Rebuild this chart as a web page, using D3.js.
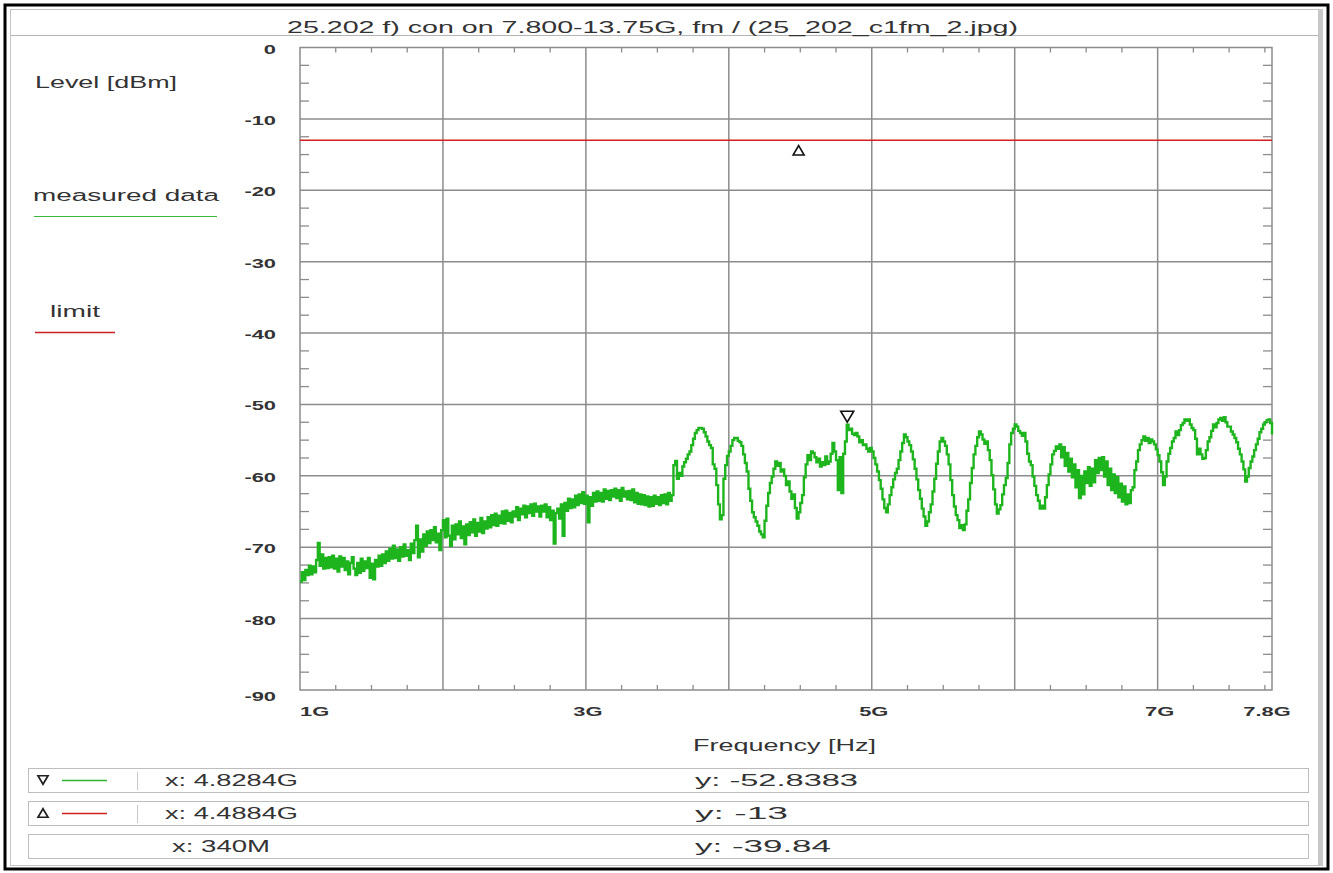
<!DOCTYPE html>
<html>
<head>
<meta charset="utf-8">
<script src="https://cdn.jsdelivr.net/npm/d3@7"></script>
<style>
  html, body { margin: 0; padding: 0; background: #fff; }
  svg { display: block; font-family: "Liberation Sans", Arial, sans-serif; }
</style>
</head>
<body>
<div id="chart"></div>
<script>
// ---- data ----
const title = "25.202 f) con on 7.800-13.75G, fm / (25_202_c1fm_2.jpg)";
const sweepStart = 1e9;        // Hz
const sweepStep = 0.0125e9;    // Hz between samples
// measured level [dBm], one value every 12.5 MHz from 1G to 7.8G (8 per 100 MHz)
const measured = [
  -74.8, -73.5, -74.6, -73.2, -73.9, -72.6, -73.8, -72.7,
  -73.5, -71.8, -69.4, -72.6, -71.0, -73.0, -71.5, -72.9,
  -71.4, -72.8, -71.2, -73.0, -71.6, -73.4, -71.3, -72.7,
  -71.5, -73.2, -72.0, -73.8, -72.2, -71.4, -73.0, -73.9,
  -72.2, -73.6, -71.6, -73.3, -72.0, -72.9, -71.5, -74.3,
  -72.3, -74.5, -71.8, -72.7, -71.2, -72.6, -71.0, -72.2,
  -70.6, -71.9, -70.2, -71.6, -69.8, -71.5, -70.3, -71.9,
  -70.0, -71.3, -69.6, -71.2, -70.4, -71.8, -69.5, -70.8,
  -69.0, -67.0, -71.4, -68.9, -70.6, -68.2, -69.8, -67.8,
  -69.4, -67.6, -69.0, -67.2, -69.3, -68.1, -70.4, -67.6,
  -66.2, -68.6, -66.0, -68.4, -69.8, -67.0, -68.9, -66.8,
  -68.2, -66.4, -68.7, -67.1, -69.6, -66.8, -68.3, -66.5,
  -67.9, -66.1, -68.4, -66.6, -67.8, -65.9, -68.0, -66.4,
  -67.4, -65.8, -67.2, -65.5, -66.9, -65.3, -67.0, -65.6,
  -66.6, -65.0, -66.7, -64.9, -66.3, -65.2, -66.5, -65.0,
  -65.7, -64.4, -66.2, -64.6, -65.4, -64.2, -65.8, -64.3,
  -65.2, -64.0, -65.6, -63.9, -65.0, -64.3, -65.7, -64.2,
  -65.0, -64.0, -65.8, -64.4, -66.2, -64.9, -69.5, -65.2,
  -64.6, -66.0, -64.0, -68.4, -63.8, -64.9, -63.2, -64.5,
  -63.3, -64.4, -62.8, -64.1, -62.6, -63.8, -62.3, -63.9,
  -62.8, -66.5, -63.0, -64.2, -62.4, -63.6, -62.2, -63.5,
  -62.4, -63.6, -61.9, -63.2, -62.1, -63.4, -62.0, -62.9,
  -61.8, -63.1, -62.0, -63.5, -61.7, -62.9, -62.2, -63.3,
  -62.1, -63.4, -61.9, -63.7, -62.4, -63.9, -62.6, -64.0,
  -62.7, -64.1, -62.9, -64.3, -63.0, -64.2, -62.8, -63.9,
  -63.0, -64.1, -62.7, -63.8, -62.6, -64.0, -62.4, -63.5,
  -62.7, -58.5, -57.9, -60.4, -59.6, -60.0, -58.7, -58.1,
  -57.6, -57.0, -56.6, -55.7, -54.8, -54.0, -53.6, -53.3,
  -53.3, -53.4, -53.9, -54.5, -55.2, -55.7, -56.1, -58.4,
  -59.0, -61.3, -64.0, -66.1, -65.5, -60.4, -58.5, -57.2,
  -56.6, -55.8, -55.0, -54.7, -54.7, -55.1, -55.3, -55.8,
  -57.0, -58.2, -59.4, -61.8, -63.5, -65.1, -65.8, -66.4,
  -67.0, -67.8, -68.2, -68.6, -66.3, -64.2, -62.4, -61.0,
  -60.1, -59.0, -58.0, -58.6, -58.2, -59.4, -59.1, -60.0,
  -61.3, -60.8, -62.2, -63.2, -62.6, -64.5, -66.0, -65.1,
  -63.8, -62.7, -60.2, -58.4, -57.1, -57.8, -56.6, -56.8,
  -57.4, -58.1, -57.6, -58.7, -58.1, -58.5, -57.3, -58.3,
  -58.0, -56.9, -55.4, -56.6, -57.8, -62.0, -57.4, -62.4,
  -56.9, -55.2, -52.84, -53.6, -53.4, -54.1, -54.3, -54.0,
  -54.5, -55.3, -55.0, -55.7, -55.6, -56.2, -56.6, -56.1,
  -56.6, -57.5, -58.4, -59.4, -60.6, -61.8, -63.3, -64.5,
  -65.1, -64.0, -62.7, -61.6, -60.5, -59.6, -59.0, -57.8,
  -56.6, -55.4, -54.2, -54.6, -55.2, -55.7, -56.6, -57.7,
  -59.0, -60.5, -62.0, -63.2, -64.6, -65.7, -67.0, -66.4,
  -65.1, -64.0, -62.2, -60.4, -58.3, -56.6, -55.2, -54.7,
  -55.2, -55.8, -57.0, -58.4, -60.6, -62.7, -64.3, -65.5,
  -66.2, -67.3, -66.9, -67.6, -66.8, -64.9, -63.3, -61.0,
  -58.9, -57.0, -55.8, -54.6, -53.8, -54.2, -54.9, -55.5,
  -55.2, -56.4, -57.8, -59.9, -61.9, -64.0, -65.3, -64.7,
  -64.1, -62.6, -61.3, -60.3, -58.2, -55.6, -54.0, -53.4,
  -52.8, -53.1, -53.7, -54.0, -54.4, -54.0, -55.2, -56.9,
  -58.0, -58.5, -60.1, -61.4, -62.7, -63.5, -64.6, -64.2,
  -64.6, -63.0, -61.3, -59.8, -58.4, -57.0, -56.5, -55.9,
  -56.2, -55.6, -57.4, -56.0, -58.6, -56.8, -59.4, -57.6,
  -60.2, -58.4, -61.6, -59.2, -63.1, -60.0, -62.6, -59.4,
  -61.0, -58.8, -61.4, -59.0, -60.9, -57.8, -59.6, -57.5,
  -59.2, -57.4, -60.1, -58.0, -61.3, -59.0, -62.0, -59.8,
  -62.4, -60.2, -63.0, -61.1, -63.6, -61.5, -64.0, -62.6,
  -63.8, -62.0, -61.6, -59.2, -58.0, -56.4, -55.6, -55.0,
  -54.5, -55.1, -54.7, -55.4, -54.9, -55.2, -55.6, -56.3,
  -57.1, -58.0, -59.5, -61.3, -60.1, -58.0, -56.9, -56.1,
  -55.2, -54.7, -53.8, -54.3, -53.6, -52.9, -52.6, -52.1,
  -52.3, -52.1, -52.8, -53.3, -53.6, -54.8, -57.0, -56.2,
  -57.0, -57.6, -57.5, -56.4, -55.2, -54.6, -53.7, -52.8,
  -53.2, -52.6, -52.1, -51.9, -52.3, -51.8, -52.5, -53.1,
  -53.1, -53.8, -54.2, -54.7, -55.3, -56.2, -57.0, -58.0,
  -59.1, -60.8, -60.1, -58.9, -58.0, -57.3, -56.4, -55.6,
  -54.8, -53.9, -53.4, -52.8, -52.5, -52.2, -52.1, -52.6,
  -54.2
];
const limitLevel = -13;

const xTickValues = [1e9, 3e9, 5e9, 7e9, 7.8e9];
const xTickLabels = ["1G", "3G", "5G", "7G", "7.8G"];
const xGridValues = [2e9, 3e9, 4e9, 5e9, 6e9, 7e9];
const yTickValues = [0, -10, -20, -30, -40, -50, -60, -70, -80, -90];

const markerRows = [
  { sym: "down", color: "#2db52d", x: "x: 4.8284G", y: "y: -52.8383", fx: 4.8284e9, fy: -52.8383 },
  { sym: "up",   color: "#d22020", x: "x: 4.4884G", y: "y: -13",      fx: 4.4884e9, fy: -13 },
  { sym: null,   color: null,      x: "x: 340M",    y: "y: -39.84" }
];

// ---- layout ----
const W = 1333, H = 873;
const plot = { left: 300, right: 1272, top: 47.5, bottom: 690 };
const textColor = "#333";
const gridColor = "#8c8c8c";
const traceColor = "#1db41d";
const stretch = 1.75;   // the original screenshot is widened horizontally

const svg = d3.select("#chart").append("svg")
  .attr("width", W).attr("height", H);

// text widened to a given pixel width
function wideText(sel, x, y, str, width, size, anchor) {
  return sel.append("text").attr("x", x).attr("y", y)
    .attr("text-anchor", anchor || "start")
    .attr("textLength", width).attr("lengthAdjust", "spacingAndGlyphs")
    .attr("fill", textColor).style("font-size", size + "px").text(str);
}

// window frame
svg.append("rect").attr("x", 5).attr("y", 5).attr("width", 1323).attr("height", 864)
  .attr("fill", "#fff").attr("stroke", "#000").attr("stroke-width", 3);
svg.append("rect").attr("x", 10.5).attr("y", 9.5).attr("width", 1308).attr("height", 856)
  .attr("fill", "none").attr("stroke", "#c4c4c4").attr("stroke-width", 1);
svg.append("rect").attr("x", 1319).attr("y", 9).attr("width", 4).attr("height", 857)
  .attr("fill", "#c8c8c8");

// title bar
svg.append("line").attr("x1", 11).attr("x2", 1318).attr("y1", 35.5).attr("y2", 35.5)
  .attr("stroke", "#b4b4b4");
wideText(svg, 287, 33, title, 731, 16);

const x = d3.scaleLinear().domain([1e9, 7.8e9]).range([plot.left, plot.right]);
const y = d3.scaleLinear().domain([-90, 0]).range([plot.bottom, plot.top]);

const g = svg.append("g");

// grid
g.append("g").selectAll("line").data(xGridValues).join("line")
  .attr("x1", d => x(d)).attr("x2", d => x(d))
  .attr("y1", plot.top).attr("y2", plot.bottom)
  .attr("stroke", gridColor).attr("stroke-width", 1.5);
g.append("g").selectAll("line").data(yTickValues.slice(1, -1)).join("line")
  .attr("x1", plot.left).attr("x2", plot.right)
  .attr("y1", d => y(d)).attr("y2", d => y(d))
  .attr("stroke", gridColor).attr("stroke-width", 1.5);

// minor ticks
const yMinor = d3.range(-90, 0.01, 2.5).filter(v => Math.abs(v % 10) > 0.01);
const xMinor = d3.range(1e9, 7.8e9, 0.25e9).filter(v => Math.abs(v % 1e9) > 1);
const ticks = g.append("g").attr("stroke", gridColor).attr("stroke-width", 1.3);
ticks.selectAll(".yl").data(yMinor).join("line")
  .attr("x1", plot.left).attr("x2", plot.left + 9)
  .attr("y1", d => y(d)).attr("y2", d => y(d));
ticks.selectAll(".yr").data(yMinor).join("line")
  .attr("x1", plot.right).attr("x2", plot.right - 9)
  .attr("y1", d => y(d)).attr("y2", d => y(d));
ticks.selectAll(".xt").data(xMinor).join("line")
  .attr("x1", d => x(d)).attr("x2", d => x(d))
  .attr("y1", plot.top).attr("y2", plot.top + 5);
ticks.selectAll(".xb").data(xMinor).join("line")
  .attr("x1", d => x(d)).attr("x2", d => x(d))
  .attr("y1", plot.bottom).attr("y2", plot.bottom - 5);

// frame
g.append("rect")
  .attr("x", plot.left).attr("y", plot.top)
  .attr("width", plot.right - plot.left).attr("height", plot.bottom - plot.top)
  .attr("fill", "none").attr("stroke", gridColor).attr("stroke-width", 1.5);

// tick labels (bold, widened)
const tickStyle = s => s.attr("fill", textColor)
  .style("font-size", "12.5px").style("font-weight", "bold");
svg.append("g").selectAll("g").data(yTickValues).join("g")
  .attr("transform", d => `translate(276,${y(d) + (d === -90 ? 11 : 6)}) scale(${stretch},1)`)
  .append("text").attr("text-anchor", "end").call(tickStyle).text(d => d);
svg.append("g").selectAll("g").data(xTickValues).join("g")
  .attr("transform", (d, i) => `translate(${x(d) + (i === 0 ? 0 : i === 4 ? -5 : 2)},716) scale(${stretch},1)`)
  .append("text").attr("text-anchor", (d, i) => i === 0 ? "start" : "middle")
  .call(tickStyle).text((d, i) => xTickLabels[i]);

wideText(svg, 693, 751, "Frequency [Hz]", 183, 16);

// limit line
g.append("line")
  .attr("x1", plot.left).attr("x2", plot.right)
  .attr("y1", y(limitLevel)).attr("y2", y(limitLevel))
  .attr("stroke", "#d22020").attr("stroke-width", 1.5);

// measured trace
const line = d3.line()
  .x((d, i) => x(sweepStart + i * sweepStep))
  .y(d => y(d))
  .curve(d3.curveStepAfter);
g.append("path").datum(measured)
  .attr("d", line)
  .attr("fill", "none").attr("stroke", traceColor).attr("stroke-width", 2.4)
  .attr("stroke-linejoin", "miter");

// plot markers
function tri(cx, cy, s, dir) {
  const h = s * 0.85;
  return dir === "down"
    ? `M${cx - s / 2},${cy - h / 2}L${cx + s / 2},${cy - h / 2}L${cx},${cy + h / 2}Z`
    : `M${cx - s / 2},${cy + h / 2}L${cx + s / 2},${cy + h / 2}L${cx},${cy - h / 2}Z`;
}
const m0 = markerRows[0], m1 = markerRows[1];
g.append("path").attr("d", tri(x(m0.fx), y(m0.fy) - 8, 13, "down"))
  .attr("fill", "#fff").attr("stroke", "#111").attr("stroke-width", 1.6);
g.append("path").attr("d", tri(x(m1.fx), y(m1.fy) + 10, 11, "up"))
  .attr("fill", "#fff").attr("stroke", "#111").attr("stroke-width", 1.6);

// left legend
wideText(svg, 35, 88, "Level [dBm]", 142, 16);
wideText(svg, 33, 201, "measured data", 186, 16);
svg.append("line").attr("x1", 34).attr("x2", 217).attr("y1", 216.5).attr("y2", 216.5)
  .attr("stroke", "#3cb83c").attr("stroke-width", 1.2);
wideText(svg, 50, 317, "limit", 50, 16);
svg.append("line").attr("x1", 35).attr("x2", 115).attr("y1", 332.5).attr("y2", 332.5)
  .attr("stroke", "#c82020").attr("stroke-width", 1.3);

// marker readout rows
const xTextWidth = [133, 133, 98];
const yTextWidth = [163, 93, 136];
const rows = svg.append("g");
markerRows.forEach((r, i) => {
  const y0 = 768 + i * 33;
  const row = rows.append("g").attr("transform", `translate(0,${y0})`);
  row.append("rect").attr("x", 28.5).attr("y", 0.5).attr("width", 1280).attr("height", 24)
    .attr("fill", "#fff").attr("stroke", "#bdbdbd");
  if (r.sym) {
    row.append("path").attr("d", tri(43, 12, 10, r.sym))
      .attr("fill", "none").attr("stroke", "#222").attr("stroke-width", 1.7);
    row.append("line").attr("x1", 62).attr("x2", 107).attr("y1", 12.5).attr("y2", 12.5)
      .attr("stroke", r.color).attr("stroke-width", 1.5);
    row.append("line").attr("x1", 137.5).attr("x2", 137.5).attr("y1", 4).attr("y2", 22)
      .attr("stroke", "#c8c8c8");
  }
  wideText(row, r.sym ? 165 : 172, 18, r.x, xTextWidth[i], 16);
  wideText(row, 695, 18, r.y, yTextWidth[i], 16);
});
</script>
</body>
</html>
